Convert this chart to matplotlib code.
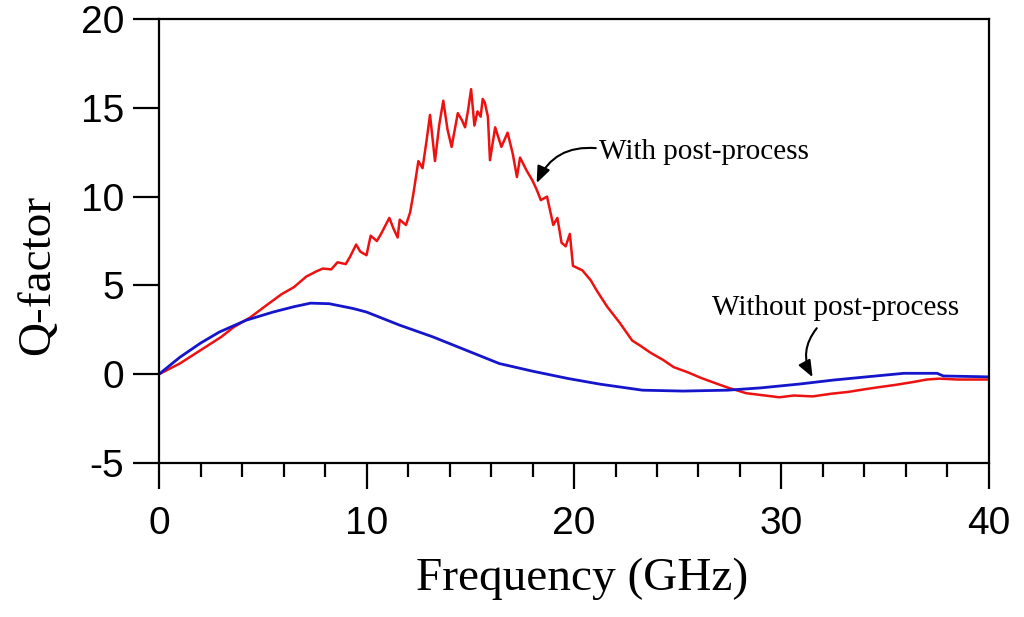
import matplotlib
matplotlib.use("Agg")
import matplotlib.pyplot as plt
from matplotlib.ticker import MultipleLocator

plt.rcParams["axes.unicode_minus"] = False

# values
freq_with = [0, 1.0, 2.0, 3.0, 3.6, 4.4, 5.2, 5.9, 6.5, 7.1,
             7.6, 7.9, 8.3, 8.6, 9.0, 9.2, 9.5, 9.7, 10.0, 10.2,
             10.5, 10.7, 11.1, 11.3, 11.5, 11.6, 11.9, 12.1, 12.25, 12.5,
             12.7, 12.9, 13.06, 13.3, 13.5, 13.7, 13.9, 14.1, 14.4, 14.6,
             14.75, 14.9, 15.04, 15.2, 15.35, 15.5, 15.6, 15.7, 15.85, 15.95,
             16.2, 16.5, 16.8, 17.05, 17.25, 17.4, 17.7, 18.0, 18.2, 18.4,
             18.7, 19.0, 19.2, 19.4, 19.6, 19.8, 19.95, 20.4, 20.8, 21.1,
             21.6, 22.2, 22.8, 23.2, 23.7, 24.3, 24.8, 25.5, 26.1, 26.8,
             27.4, 28.3, 29.9, 30.6, 31.5, 32.4, 33.2, 34.0, 34.7, 35.5,
             36.3, 37.0, 37.6, 38.5, 40]
q_with = [0, 0.6, 1.35, 2.1, 2.65, 3.2, 3.9, 4.5, 4.9, 5.5,
          5.8, 5.95, 5.9, 6.3, 6.2, 6.6, 7.3, 6.9, 6.7, 7.8,
          7.5, 7.9, 8.8, 8.2, 7.7, 8.7, 8.4, 9.1, 10.1, 12.0,
          11.6, 13.2, 14.6, 12.0, 14.0, 15.4, 13.8, 12.8, 14.7, 14.3,
          13.9, 14.9, 16.05, 14.0, 14.8, 14.5, 15.5, 15.3, 14.5, 12.05,
          13.9, 12.8, 13.6, 12.4, 11.1, 12.2, 11.5, 10.9, 10.4, 9.8,
          10.0, 8.4, 8.8, 7.4, 7.2, 7.9, 6.1, 5.85, 5.3, 4.7,
          3.8, 2.9, 1.9, 1.6, 1.2, 0.8, 0.4, 0.1, -0.2, -0.5,
          -0.75, -1.07, -1.3, -1.2, -1.25, -1.1, -1.0, -0.85, -0.73, -0.6,
          -0.45, -0.3, -0.25, -0.3, -0.3]

freq_without = [0, 1.0, 2.0, 2.9, 4.2, 5.5, 6.5, 7.3, 8.2, 9.35,
                10.0, 11.6, 13.2, 14.8, 16.4, 18.0, 19.7, 21.25, 23.3, 25.25,
                27.4, 29.0, 30.9, 32.5, 34.1, 35.9, 37.5, 37.8, 40]
q_without = [0, 0.95, 1.75, 2.37, 3.04, 3.5, 3.8, 4.0, 3.97, 3.7,
             3.5, 2.76, 2.1, 1.35, 0.6, 0.17, -0.24, -0.56, -0.9, -0.95,
             -0.9, -0.77, -0.55, -0.33, -0.15, 0.05, 0.05, -0.1, -0.15]

fig = plt.figure(figsize=(10.24, 6.17), dpi=100)
ax = fig.add_axes([0.1553, 0.2496, 0.8105, 0.7196])

ax.plot(freq_with, q_with, color="#ee1111", lw=1.8)
ax.plot(freq_without, q_without, color="#1515cc", lw=2.0)

ax.set_xlim(0, 40)
ax.set_ylim(-5, 20)
ax.xaxis.set_major_locator(MultipleLocator(10))
ax.xaxis.set_minor_locator(MultipleLocator(2))
ax.yaxis.set_major_locator(MultipleLocator(5))

for s in ax.spines.values():
    s.set_linewidth(1.6)

ax.tick_params(axis="x", which="major", direction="out", length=19, width=1.6,
               pad=12, labelsize=28)
ax.tick_params(axis="x", which="minor", direction="out", length=10, width=1.6)
ax.tick_params(axis="y", which="major", direction="out", length=19, width=1.6,
               pad=6, labelsize=28)
for lab in ax.get_xticklabels() + ax.get_yticklabels():
    lab.set_family("Liberation Sans")

ax.text(0.51, -0.26, "Frequency (GHz)", transform=ax.transAxes,
        ha="center", va="center", fontsize=34, family="Liberation Serif")
ax.text(-0.146, 0.423, "Q-factor", transform=ax.transAxes, rotation=90,
        ha="center", va="center", fontsize=34, family="Liberation Serif")

# annotations
ax.text(21.2, 12.5, "With post-process", fontsize=21,
        family="Liberation Serif", ha="left", va="center")
ax.text(26.65, 3.72, "Without post-process", fontsize=21,
        family="Liberation Serif", ha="left", va="center")

arrow = dict(arrowstyle="-|>,head_length=1.0,head_width=0.4",
             color="black", lw=1.5, shrinkA=0, shrinkB=0, mutation_scale=10)
ax.annotate("", xy=(18.2, 10.76), xytext=(21.05, 12.73),
            arrowprops=dict(arrow, connectionstyle="arc3,rad=0.35"))
ax.annotate("", xy=(31.5, -0.17), xytext=(31.7, 2.59),
            arrowprops=dict(arrow, connectionstyle="arc3,rad=0.33"))

fig.savefig("out.png", dpi=100)
